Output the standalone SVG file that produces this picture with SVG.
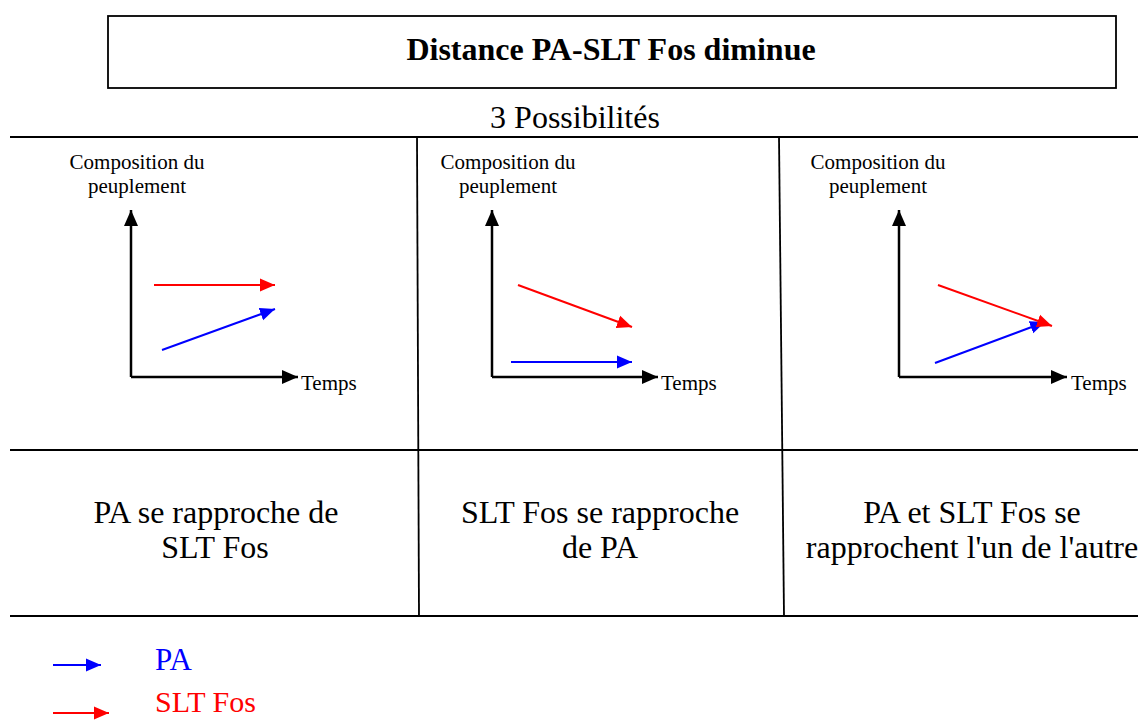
<svg xmlns="http://www.w3.org/2000/svg" width="1138" height="720" viewBox="0 0 1138 720">
<style>
text{font-family:"Liberation Serif","Times New Roman",serif;fill:#000}
.big{font-size:32px}
.small{font-size:21px}
.axis{stroke:#000;stroke-width:2.5;fill:none}
.red{stroke:#ff0000;stroke-width:2;fill:none}
.blue{stroke:#0000ff;stroke-width:2;fill:none}
.rule{stroke:#000;stroke-width:1.8;fill:none}
</style>
<defs>
<marker id="ak" markerUnits="userSpaceOnUse" markerWidth="17" markerHeight="16" refX="16" refY="8" orient="auto"><path d="M0,1 L16,8 L0,15 Z" fill="#000"/></marker>
<marker id="ar" markerUnits="userSpaceOnUse" markerWidth="16" markerHeight="14" refX="15" refY="7" orient="auto"><path d="M0,0.5 L15,7 L0,13.5 Z" fill="#ff0000"/></marker>
<marker id="ab" markerUnits="userSpaceOnUse" markerWidth="16" markerHeight="14" refX="15" refY="7" orient="auto"><path d="M0,0.5 L15,7 L0,13.5 Z" fill="#0000ff"/></marker>
</defs>
<rect width="1138" height="720" fill="#fff"/>
<g id="title">
<rect x="108" y="16" width="1008" height="72" fill="#fff" stroke="#000" stroke-width="1.8"/>
<text x="611" y="60" font-weight="bold" font-size="32" text-anchor="middle">Distance PA-SLT Fos diminue</text>
</g>
<g id="subtitle"><text x="575" y="128" class="big" text-anchor="middle">3 Possibilités</text></g>
<g id="grid">
<line class="rule" x1="10" y1="137" x2="1138" y2="137"/>
<line class="rule" x1="10" y1="450" x2="1138" y2="450"/>
<line class="rule" x1="10" y1="616" x2="1138" y2="616"/>
<line class="rule" x1="417" y1="137" x2="419" y2="616"/>
<line class="rule" x1="779" y1="137" x2="784" y2="616"/>
</g>
<g id="chart1">
<text class="small" text-anchor="middle"><tspan x="137" y="169">Composition du</tspan><tspan x="137" y="193">peuplement</tspan></text>
<path class="axis" d="M131,377 L298,377" marker-end="url(#ak)"/>
<line class="axis" x1="131" y1="377" x2="131" y2="210" marker-end="url(#ak)"/>
<text x="301" y="390" class="small">Temps</text>
</g>
<g id="chart2">
<text class="small" text-anchor="middle"><tspan x="508" y="169">Composition du</tspan><tspan x="508" y="193">peuplement</tspan></text>
<path class="axis" d="M492,377 L658,377" marker-end="url(#ak)"/>
<line class="axis" x1="492" y1="377" x2="492" y2="210" marker-end="url(#ak)"/>
<text x="661" y="390" class="small">Temps</text>
</g>
<g id="chart3">
<text class="small" text-anchor="middle"><tspan x="878" y="169">Composition du</tspan><tspan x="878" y="193">peuplement</tspan></text>
<path class="axis" d="M899,377 L1067,377" marker-end="url(#ak)"/>
<line class="axis" x1="899" y1="377" x2="899" y2="210" marker-end="url(#ak)"/>
<text x="1071" y="390" class="small">Temps</text>
</g>
<g id="connectors">
<line class="red" x1="154" y1="285" x2="275" y2="285" marker-end="url(#ar)"/>
<line class="blue" x1="162" y1="350" x2="275" y2="309" marker-end="url(#ab)"/>
<line class="red" x1="518" y1="285" x2="632" y2="327" marker-end="url(#ar)"/>
<line class="blue" x1="511" y1="362" x2="632" y2="362" marker-end="url(#ab)"/>
<line class="blue" x1="935" y1="363" x2="1045" y2="322" marker-end="url(#ab)"/>
<line class="red" x1="938" y1="285" x2="1052" y2="326" marker-end="url(#ar)"/>
</g>
<g id="caption1"><text class="big" text-anchor="middle"><tspan x="216" y="523">PA se rapproche de</tspan><tspan x="215" y="558">SLT Fos</tspan></text></g>
<g id="caption2"><text class="big" text-anchor="middle"><tspan x="600" y="523">SLT Fos se rapproche</tspan><tspan x="600" y="558">de PA</tspan></text></g>
<g id="caption3"><text class="big" text-anchor="middle"><tspan x="972" y="523">PA et SLT Fos se</tspan><tspan x="972" y="558">rapprochent l'un de l'autre</tspan></text></g>
<g id="legend">
<line class="blue" x1="53" y1="665" x2="101" y2="665" marker-end="url(#ab)"/>
<text x="155" y="670" font-size="31" style="fill:#0000ff">PA</text>
<line class="red" x1="53" y1="713" x2="109" y2="713" marker-end="url(#ar)"/>
<text x="155" y="712" font-size="30" style="fill:#ff0000">SLT Fos</text>
</g>
</svg>
